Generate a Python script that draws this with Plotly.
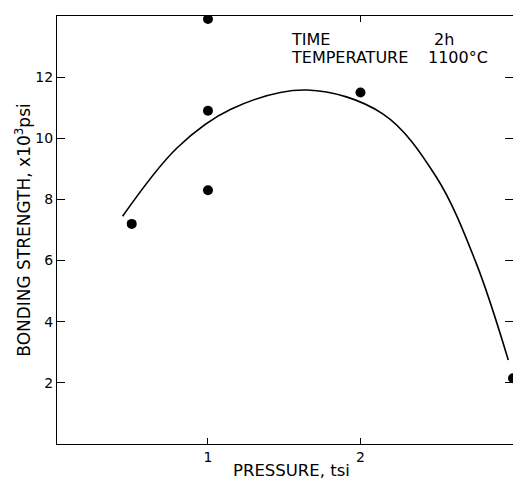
import plotly.graph_objects as go

# measured data points
pressure = [0.5, 1.0, 1.0, 1.0, 2.0, 3.0]
strength = [7.2, 13.9, 10.9, 8.3, 11.5, 2.15]

# fitted curve
curve_x = [0.44, 0.80, 1.15, 1.65, 2.146, 2.495, 2.756, 2.969]
curve_y = [7.45, 9.7, 10.95, 11.58, 10.8, 8.75, 5.95, 2.75]

x_ticks = [1, 2, 3]
y_ticks = [2, 4, 6, 8, 10, 12]

FONT = "DejaVu Sans"
TXT = dict(family=FONT, size=16, color="black")

fig = go.Figure()
fig.add_trace(go.Scatter(x=curve_x, y=curve_y, mode="lines",
                         line=dict(color="black", width=1.6, shape="spline", smoothing=1.0),
                         hoverinfo="skip", showlegend=False))
fig.add_trace(go.Scatter(x=pressure, y=strength, mode="markers",
                         marker=dict(color="black", size=10),
                         showlegend=False))

fig.add_annotation(x=0.511, y=0.945, xref="paper", yref="paper", xanchor="left", yanchor="middle",
                   text="TIME", showarrow=False, font=TXT, borderpad=0)
fig.add_annotation(x=0.825, y=0.945, xref="paper", yref="paper", xanchor="left", yanchor="middle",
                   text="2h", showarrow=False, font=TXT, borderpad=0)
fig.add_annotation(x=0.511, y=0.903, xref="paper", yref="paper", xanchor="left", yanchor="middle",
                   text="TEMPERATURE", showarrow=False, font=TXT, borderpad=0)
fig.add_annotation(x=0.811, y=0.903, xref="paper", yref="paper", xanchor="left", yanchor="middle",
                   text="1100°C", showarrow=False, font=TXT, borderpad=0)
# x-axis title
fig.add_annotation(x=0.515, y=-0.0864, xref="paper", yref="paper", xanchor="center", yanchor="bottom",
                   text="PRESSURE, tsi", showarrow=False, borderpad=0,
                   font=dict(family=FONT, size=16.5, color="black"))

fig.update_layout(
    width=513, height=481,
    margin=dict(l=57, r=0, t=16, b=37),
    paper_bgcolor="white", plot_bgcolor="white",
    font=dict(family=FONT, size=14, color="black"),
    xaxis=dict(range=[0.01, 3.0], tickvals=x_ticks, ticktext=[str(v) for v in x_ticks],
               ticks="inside", ticklen=6, tickcolor="black", tickwidth=1,
               showline=True, linecolor="black", linewidth=1, mirror="ticks",
               showgrid=False, zeroline=False,
               tickfont=dict(size=14)),
    yaxis=dict(range=[0, 14], tickvals=y_ticks, ticktext=[str(v) for v in y_ticks],
               ticks="inside", ticklen=8, tickcolor="black", tickwidth=1,
               showline=True, linecolor="black", linewidth=1, mirror="ticks",
               showgrid=False, zeroline=False,
               tickfont=dict(size=14),
               title=dict(text="BONDING STRENGTH, x10<sup>3</sup>psi", standoff=0, font=dict(size=17))),
)

fig.write_html("out.html", config={"displayModeBar": False},
               post_script="document.body.style.margin='0';document.body.style.padding='0';")
